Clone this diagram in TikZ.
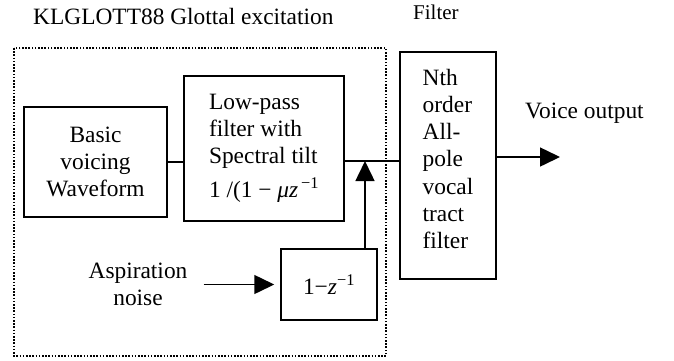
\documentclass[tikz,border=0pt]{standalone}
\usepackage{fontspec}
\setmainfont{Liberation Serif}
\usetikzlibrary{arrows.meta}

\begin{document}
\begin{tikzpicture}[x=1pt,y=-1pt,
  every node/.style={font=\fontsize{23.4}{26.8}\selectfont,inner sep=0pt},
  blk/.style={draw,line width=1.5pt,align=center},
  tip/.style={-{Triangle[length=20pt,width=19pt]}}]
\useasboundingbox (0,0) rectangle (674,360);
\draw[line width=1.6pt,dash pattern=on 1.6pt off 1.6pt] (14,48) rectangle (386,356);

\node (title) [anchor=base west] at (33,24) {KLGLOTT88 Glottal excitation};
\node (ftitle) [anchor=base west,font=\fontsize{21}{24}\selectfont] at (413,19) {Filter};

\node[blk,minimum width=143pt,minimum height=110pt] (basic) at (95.5,162) {Basic\\voicing\\Waveform};
\node[blk,align=left,minimum width=160pt,minimum height=145pt] (lowpass) at (264,148.5)
  {Low-pass\\filter with\\Spectral tilt\\[8pt]1 /(1 − {\itshape μz}\textsuperscript{\,−1}};
\node[blk,minimum width=96pt,minimum height=71pt] (zbox) at (329,284.5) {1−{\itshape z}\textsuperscript{−1}};
\node[blk,align=left,minimum width=96pt,minimum height=227pt,
  font=\fontsize{23.4}{27.3}\selectfont] (filter) at (448,165.5)
  {Nth\\order\\All-\\pole\\vocal\\tract\\filter\\[-14pt]\mbox{}};
\node (aspir) [align=center] at (138,284) {Aspiration\\noise};
\node (vtext) [anchor=base west] at (525,118) {Voice output};

\coordinate (join) at (365,161);
\coordinate (vout) at (560,157);

\begin{scope}[line width=1.5pt]
\draw (basic.east) -- (lowpass.west |- basic.east);
\draw (lowpass.east |- join) -- (filter.west |- join);
\draw[tip] (zbox.north -| join) -- (join);
\draw[tip,shorten <=16pt,shorten >=6pt] (aspir.east |- zbox.west) -- (zbox.west);
\draw[tip] (filter.east |- vout) -- (vout);
\end{scope}
\end{tikzpicture}
\end{document}
